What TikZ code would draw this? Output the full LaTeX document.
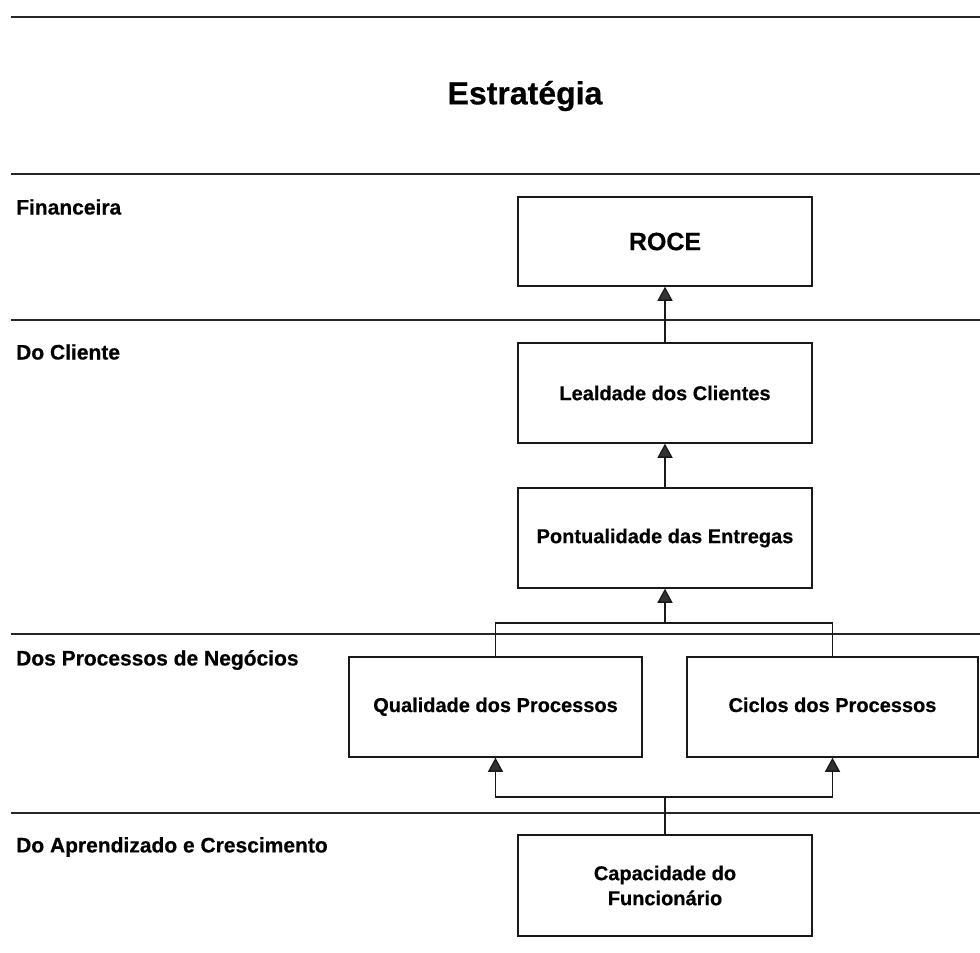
\documentclass[tikz,border=0pt]{standalone}
\usepackage{fontspec}
\setmainfont{Liberation Sans}[BoldFeatures={FakeBold=0.5}]
\usetikzlibrary{arrows.meta}
\begin{document}
\begin{tikzpicture}[x=1pt,y=1pt,
  font=\bfseries,
  stepbox/.style={draw=black!90, line width=1.5pt, minimum width=294pt, minimum height=100pt,
    inner sep=0pt, align=center, font=\fontsize{20}{25}\selectfont\bfseries},
  rowlabel/.style={anchor=west, inner sep=0pt, font=\fontsize{21}{25}\selectfont\bfseries},
  sep/.style={line width=1.5pt, draw=black!85},
  link/.style={line width=1.3pt, draw=black!90},
  arr/.style={link, -{Triangle[width=15pt,length=14pt,fill=black!80]}}]
  \useasboundingbox (0,0) rectangle (980,-953);

  % horizontal separators between the perspectives
  \draw[sep] (11,-17) -- (980,-17);
  \draw[sep] (11,-174) -- (980,-174);
  \draw[sep] (11,-320) -- (980,-320);
  \draw[sep] (11,-634) -- (980,-634);
  \draw[sep] (11,-813) -- (980,-813);

  % title
  \node[inner sep=0pt, font=\fontsize{32}{36}\selectfont\bfseries] (title) at (525,-96) {Estratégia};

  % perspective labels
  \node[rowlabel] (lfin) at (16,-207) {Financeira};
  \node[rowlabel] (lcli) at (16,-352) {Do Cliente};
  \node[rowlabel] (lproc) at (16,-660) {Dos Processos de Negócios};
  \node[rowlabel] (lapr) at (16,-847) {Do Aprendizado e Crescimento};

  % objectives
  \node[stepbox, minimum height=89pt, font=\fontsize{25}{30}\selectfont\bfseries] (roce) at (665,-241.5) {ROCE};
  \node[stepbox] (leal) at (665,-393) {Lealdade dos Clientes};
  \node[stepbox] (pont) at (665,-538) {Pontualidade das Entregas};
  \node[stepbox, minimum width=293pt, text height=14pt, text depth=4pt] (qual) at (495.5,-707) {Qualidade dos Processos};
  \node[stepbox, minimum width=291pt, text height=14pt, text depth=4pt] (cicl) at (832.5,-707) {Ciclos dos Processos};
  \node[stepbox, minimum height=101pt] (capa) at (665,-885.5) {Capacidade do\\Funcionário};

  % cause-and-effect links
  \coordinate (j1) at (665,-623);
  \coordinate (j2) at (665,-797);
  \draw[arr] (leal.north) -- (roce.south);
  \draw[arr] (pont.north) -- (leal.south);
  \draw[link] (qual.north) |- (j1);
  \draw[link] (cicl.north) |- (j1);
  \draw[arr] (j1) -- (pont.south);
  \draw[link] (capa.north) -- (j2);
  \draw[arr] (j2) -| (qual.south);
  \draw[arr] (j2) -| (cicl.south);
\end{tikzpicture}
\end{document}
